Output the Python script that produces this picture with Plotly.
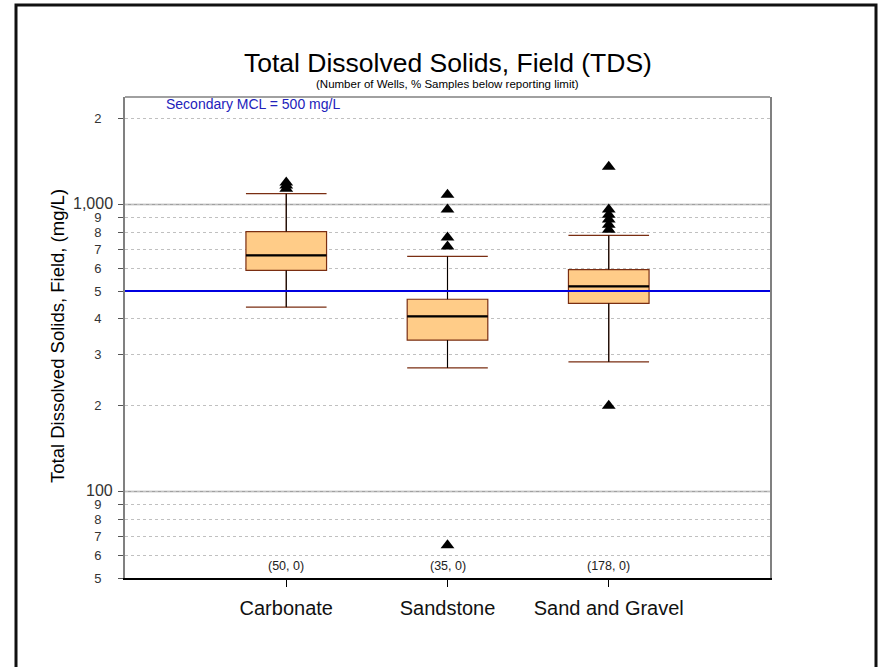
import numpy as np
import plotly.graph_objects as go

# Aquifer groups and summary statistics (mg/L)
categories = ["Carbonate", "Sandstone", "Sand and Gravel"]
q1 = [590, 337, 453]
median = [665, 408, 519]
q3 = [805, 468, 594]
lower_whisker = [439, 270, 283]
upper_whisker = [1092, 660, 781]
n_labels = ["(50, 0)", "(35, 0)", "(178, 0)"]

# Individual outliers per group
outlier_groups = ["Carbonate", "Carbonate", "Carbonate",
                  "Sandstone", "Sandstone", "Sandstone", "Sandstone", "Sandstone",
                  "Sand and Gravel", "Sand and Gravel", "Sand and Gravel",
                  "Sand and Gravel", "Sand and Gravel", "Sand and Gravel",
                  "Sand and Gravel"]
outlier_values = [1135, 1165, 1195,
                  1083, 961, 768, 715, 65,
                  1355, 962, 922, 887, 850, 817, 199]

mcl_value = 500

# Log-axis ticks; the decade labels are drawn separately in a larger size
tick_vals = [50, 60, 70, 80, 90, 100, 200, 300, 400, 500, 600, 700, 800, 900, 1000, 2000]
tick_text = ["5", "6", "7", "8", "9", "", "2", "3", "4", "5", "6", "7", "8", "9", "", "2"]
decade_vals = [100, 1000]
decade_text = ["100", "1,000"]

FONT = "Liberation Sans, Arial, sans-serif"
W, H = 878, 667
L, R, T, B = 125, 108, 97, 89
pw, ph = W - L - R, H - T - B


def px_x(p):
    return (p - L) / pw


def px_y(p):
    return (H - B - p) / ph


fig = go.Figure()

xpos = list(range(len(categories)))
box_w = 0.5

fig.add_trace(go.Box(
    x=xpos, q1=q1, median=median, q3=q3,
    lowerfence=lower_whisker, upperfence=upper_whisker,
    width=box_w, whiskerwidth=1,
    fillcolor="#FFCC88",
    line=dict(color="#7a2e12", width=1.2),
    boxpoints=False, showlegend=False, hoverinfo="skip",
))

# Median lines drawn heavier in black
for i, m in enumerate(median):
    fig.add_shape(type="line", xref="x", yref="y",
                  x0=xpos[i] - box_w / 2, x1=xpos[i] + box_w / 2, y0=m, y1=m,
                  line=dict(color="black", width=2.2))

# Whisker lines and bracket caps in black
for i in range(len(categories)):
    xc = xpos[i]
    for a, b in [(q3[i], upper_whisker[i]), (lower_whisker[i], q1[i])]:
        fig.add_shape(type="line", xref="x", yref="y", x0=xc, x1=xc, y0=a, y1=b,
                      line=dict(color="black", width=1))
    for w, d in [(upper_whisker[i], -1), (lower_whisker[i], 1)]:
        tip = w * 10 ** (d * 0.02)
        fig.add_shape(type="path", xref="x", yref="y",
                      path=(f"M {xc - box_w/2},{np.log10(tip)} L {xc - box_w/2},{np.log10(w)} "
                            f"L {xc + box_w/2},{np.log10(w)} L {xc + box_w/2},{np.log10(tip)}"),
                      line=dict(color="black", width=1.2))

fig.add_trace(go.Scatter(
    x=[categories.index(g) for g in outlier_groups], y=outlier_values,
    mode="markers", marker=dict(symbol="triangle-up", size=12, color="black"),
    showlegend=False, hoverinfo="skip",
))

# Major decade gridlines with their larger labels
for v, t in zip(decade_vals, decade_text):
    fig.add_shape(type="line", xref="paper", yref="y", x0=0, x1=1, y0=v, y1=v,
                  line=dict(color="#a0a0a0", width=1.5), layer="below")
    fig.add_annotation(xref="paper", yref="y", x=px_x(115), y=np.log10(v), yshift=1,
                       text=t, showarrow=False, xanchor="right", yanchor="middle",
                       font=dict(family=FONT, size=16, color="#333"))

# Secondary MCL line
fig.add_shape(type="line", xref="paper", yref="y", x0=0, x1=1, y0=mcl_value, y1=mcl_value,
              line=dict(color="#0000e0", width=2))
fig.add_annotation(xref="paper", yref="paper", x=px_x(164), y=px_y(104),
                   text="Secondary MCL = 500 mg/L", showarrow=False, xanchor="left",
                   yanchor="middle", font=dict(family=FONT, size=14, color="#2222bb"))

# Sample counts
for i, t in enumerate(n_labels):
    fig.add_annotation(xref="x", yref="paper", x=xpos[i], y=px_y(566),
                       text=t, showarrow=False, yanchor="middle",
                       font=dict(family=FONT, size=12.5, color="#222"))

# Plot-area top border
fig.add_shape(type="line", xref="paper", yref="paper", x0=0, x1=1, y0=1, y1=1,
              line=dict(color="#808080", width=1.5))

# Outer page frame
fig.add_shape(type="rect", xref="paper", yref="paper",
              x0=px_x(16), x1=px_x(876), y0=-0.3, y1=px_y(5),
              line=dict(color="#111", width=3))

# Title, subtitle and y-axis title
fig.add_annotation(xref="paper", yref="paper", x=0.5, y=px_y(63),
                   text="Total Dissolved Solids, Field (TDS)", showarrow=False,
                   yanchor="middle", font=dict(family=FONT, size=26.5, color="black"))
fig.add_annotation(xref="paper", yref="paper", x=0.5, y=px_y(84),
                   text="(Number of Wells, % Samples below reporting limit)", showarrow=False,
                   yanchor="middle", font=dict(family=FONT, size=11.5, color="black"))
fig.add_annotation(xref="paper", yref="paper", x=px_x(57), y=px_y(336),
                   text="Total Dissolved Solids, Field, (mg/L)", showarrow=False,
                   textangle=-90, xanchor="center", yanchor="middle",
                   font=dict(family=FONT, size=18.5, color="black"))

fig.update_layout(
    width=W, height=H,
    margin=dict(l=L, r=R, t=T, b=B, pad=0),
    paper_bgcolor="white", plot_bgcolor="white",
    font=dict(family=FONT, color="#222"),
    xaxis=dict(
        range=[-1, 3], tickvals=xpos, ticktext=categories,
        tickfont=dict(family=FONT, size=20, color="#111"),
        ticks="outside", ticklen=7, tickcolor="black", tickwidth=1,
        ticklabelstandoff=4,
        showline=True, linecolor="black", linewidth=2,
        showgrid=False, zeroline=False,
    ),
    yaxis=dict(
        type="log", range=[np.log10(50), np.log10(2371)],
        tickvals=tick_vals, ticktext=tick_text,
        tickfont=dict(family=FONT, size=13, color="#333"),
        ticks="outside", ticklen=5, tickcolor="#555", tickwidth=1,
        ticklabelstandoff=14,
        showline=True, linecolor="#808080", linewidth=2, mirror=True,
        showgrid=True, gridcolor="#c0c0c0", griddash="dot", gridwidth=1,
        zeroline=False,
    ),
)

fig.write_html("out.html")
